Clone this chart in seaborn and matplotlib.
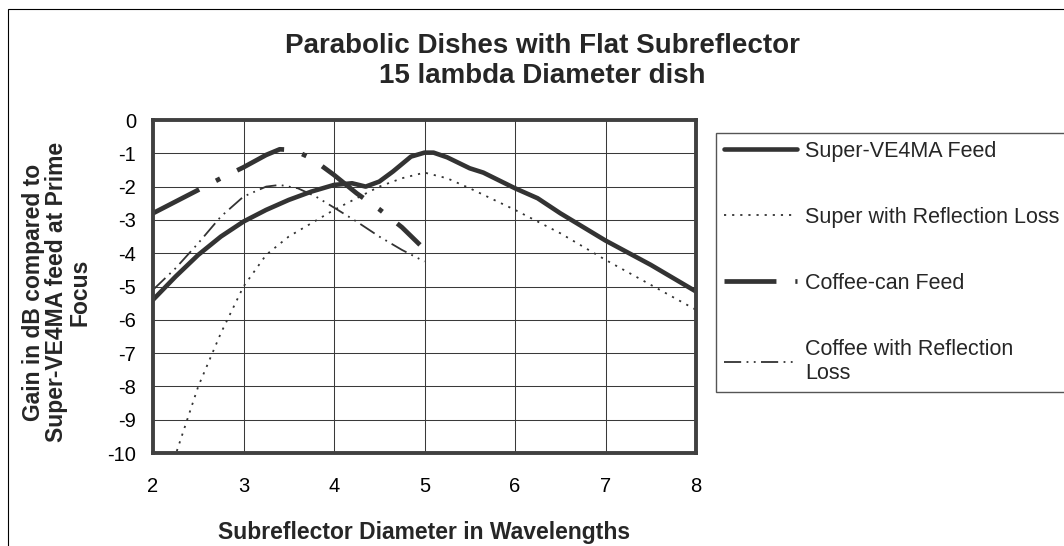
import matplotlib
matplotlib.use("Agg")
import matplotlib.pyplot as plt
import seaborn as sns
from matplotlib.patches import Rectangle

# ---- data ----
super_x = [2.0, 2.25, 2.5, 2.75, 3.0, 3.25, 3.5, 3.75, 4.0, 4.2, 4.35, 4.5, 4.65, 4.85,
           5.0, 5.1, 5.25, 5.5, 5.65, 6.0, 6.25, 6.5, 7.0, 7.5, 8.0]
super_y = [-5.4, -4.7, -4.05, -3.5, -3.05, -2.7, -2.4, -2.15, -1.95, -1.9, -2.0, -1.85,
           -1.55, -1.1, -0.98, -0.98, -1.12, -1.45, -1.58, -2.05, -2.35, -2.8, -3.62, -4.35, -5.15]

super_rl_x = [2.2, 2.25, 2.5, 2.75, 3.0, 3.25, 3.5, 3.75, 4.0, 4.25, 4.5, 4.75, 5.0, 5.25,
              5.5, 6.0, 6.5, 7.0, 7.5, 8.0]
super_rl_y = [-10.4, -10.05, -8.0, -6.4, -5.0, -4.05, -3.5, -3.1, -2.7, -2.35, -2.0, -1.75,
              -1.58, -1.75, -2.05, -2.7, -3.4, -4.2, -4.95, -5.7]

coffee_x = [2.0, 2.25, 2.5, 2.75, 3.0, 3.25, 3.4, 3.55, 3.75, 4.0, 4.25, 4.5, 4.75, 4.95]
coffee_y = [-2.8, -2.45, -2.1, -1.75, -1.42, -1.05, -0.88, -0.9, -1.15, -1.65, -2.2, -2.68,
            -3.22, -3.75]

coffee_rl_x = [2.0, 2.25, 2.5, 2.75, 3.0, 3.25, 3.4, 3.6, 3.8, 4.0, 4.25, 4.5, 4.75, 5.0]
coffee_rl_y = [-5.1, -4.45, -3.7, -2.9, -2.3, -2.0, -1.95, -2.05, -2.3, -2.63, -3.05, -3.5,
               -3.9, -4.25]

series_labels = ["Super-VE4MA Feed", "Super with Reflection Loss",
                 "Coffee-can Feed", "Coffee with Reflection\nLoss"]
x_ticks = [2, 3, 4, 5, 6, 7, 8]
y_ticks = [0, -1, -2, -3, -4, -5, -6, -7, -8, -9, -10]

title_text = "Parabolic Dishes with Flat Subreflector\n15 lambda Diameter dish"
x_label = "Subreflector Diameter in Wavelengths"
y_label = "Gain in dB compared to\nSuper-VE4MA feed at Prime\nFocus"

# ---- style ----
sns.set_style("white")
plt.rcParams["font.family"] = ["Liberation Sans", "DejaVu Sans"]

W, H = 1064, 546
fig = plt.figure(figsize=(W / 100, H / 100), dpi=100)
ax = fig.add_axes([153 / W, 1 - 453 / H, (696 - 153) / W, (453 - 120) / H])

dark = "#333333"

sns.lineplot(x=super_x, y=super_y, ax=ax, color=dark, linewidth=3.3,
             label=series_labels[0], sort=False, estimator=None)
ax.lines[-1].set_solid_capstyle("round")
sns.lineplot(x=super_rl_x, y=super_rl_y, ax=ax, color=dark, linewidth=1.3,
             label=series_labels[1], sort=False, estimator=None)
ax.lines[-1].set_linestyle((0, (1.2, 3.3)))
sns.lineplot(x=coffee_x, y=coffee_y, ax=ax, color=dark, linewidth=3.4,
             label=series_labels[2], sort=False, estimator=None)
ax.lines[-1].set_linestyle((0, (11, 4, 1, 4)))
sns.lineplot(x=coffee_rl_x, y=coffee_rl_y, ax=ax, color=dark, linewidth=1.3,
             label=series_labels[3], sort=False, estimator=None)
ax.lines[-1].set_linestyle((0, (9.5, 3, 1, 3, 1, 3)))

ax.set_xlim(2, 8)
ax.set_ylim(-10, 0)
ax.set_xticks(x_ticks)
ax.set_yticks(y_ticks)
ax.set_xticklabels([str(v) for v in x_ticks])
ax.set_yticklabels([str(v) for v in y_ticks])
ax.grid(True, color="#3a3a3a", linewidth=0.75)
ax.set_axisbelow(True)
for s in ax.spines.values():
    s.set_visible(True)
    s.set_color("#404040")
    s.set_linewidth(2.8)
ax.tick_params(axis="both", which="major", direction="out", length=4, width=0.8,
               color="#333333", labelsize=14.5, labelcolor="black")
ax.tick_params(axis="y", pad=8)
ax.tick_params(axis="x", pad=13)

ax.set_xlabel(x_label, fontsize=16.5, fontweight="bold", va="center")
ax.xaxis.set_label_coords(0.5, (453 - 533) / 333)
ax.set_ylabel(y_label, fontsize=16.5, fontweight="bold", va="center", linespacing=1.0)
ax.yaxis.set_label_coords((57 - 153) / 543, (453 - 292) / 333)

fig.text(542 / W, 1 - 61 / H, title_text, ha="center", va="center", fontsize=20,
         fontweight="bold", linespacing=1.22)

leg = ax.legend(loc="upper left", bbox_to_anchor=(716 / W, 1 - 133 / H),
                bbox_transform=fig.transFigure, frameon=True, fancybox=False,
                fontsize=15.5, handlelength=3.4, handletextpad=0.38,
                labelspacing=2.1, borderpad=0.35, borderaxespad=0)
leg.get_frame().set_edgecolor("#555555")
leg.get_frame().set_linewidth(1.0)
leg.get_frame().set_facecolor("white")
leg.get_frame().set_alpha(1)

# outer chart-area frame
fig.patches.append(Rectangle((8 / W, -0.1), 1.2, 1 - 9 / H + 0.1,
                             transform=fig.transFigure, fill=False,
                             edgecolor="black", linewidth=0.8, zorder=-1))

fig.savefig("out.png", dpi=100)
